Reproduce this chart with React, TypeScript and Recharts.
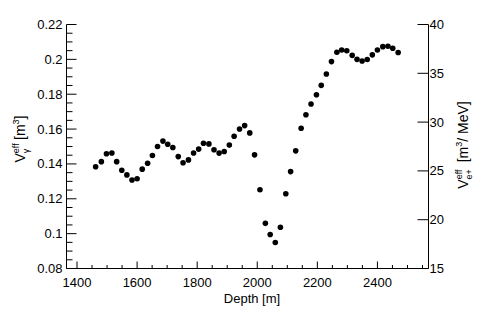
import React from "react";
import { ScatterChart, Scatter, XAxis, YAxis } from "recharts";

// depth [m] of each measurement
const depths = [
  1462, 1481, 1498, 1516, 1532, 1549, 1566, 1583, 1600, 1617,
  1635, 1651, 1668, 1686, 1702, 1719, 1737, 1753, 1771, 1788,
  1805, 1821, 1839, 1856, 1873, 1890, 1907, 1923, 1941, 1958,
  1975, 1991, 2009, 2027, 2043, 2060, 2077, 2095, 2111, 2128,
  2146, 2162, 2179, 2197, 2213, 2230, 2247, 2265, 2281, 2298,
  2316, 2332, 2349, 2366, 2383, 2400, 2418, 2435, 2451, 2469,
];

// V_gamma^eff [m^3]
const vGamma = [
  0.1384, 0.1413, 0.1458, 0.1463, 0.1413, 0.1364, 0.1337, 0.1308, 0.1315, 0.137,
  0.1404, 0.1448, 0.15, 0.1531, 0.1513, 0.1494, 0.1442, 0.1407, 0.1423, 0.1463,
  0.1485, 0.1519, 0.1515, 0.1481, 0.1462, 0.1471, 0.1508, 0.1559, 0.16, 0.162,
  0.1578, 0.1452, 0.1252, 0.1059, 0.0995, 0.0949, 0.1037, 0.1229, 0.1356, 0.1475,
  0.1605, 0.1682, 0.1744, 0.1797, 0.1851, 0.1916, 0.1987, 0.2041, 0.2054, 0.2049,
  0.2023, 0.2, 0.1991, 0.1999, 0.2026, 0.2054, 0.2073, 0.2075, 0.2064, 0.2039,
];

const xTicks = [
  1400, 1450, 1500, 1550, 1600, 1650, 1700, 1750, 1800, 1850, 1900, 1950,
  2000, 2050, 2100, 2150, 2200, 2250, 2300, 2350, 2400, 2450, 2500, 2550,
];
const xLabels = [1400, 1600, 1800, 2000, 2200, 2400];

const yTicks = [
  0.08, 0.085, 0.09, 0.095, 0.1, 0.105, 0.11, 0.115, 0.12, 0.125, 0.13, 0.135,
  0.14, 0.145, 0.15, 0.155, 0.16, 0.165, 0.17, 0.175, 0.18, 0.185, 0.19, 0.195,
  0.2, 0.205, 0.21, 0.215, 0.22,
];
const yLabels = [0.08, 0.1, 0.12, 0.14, 0.16, 0.18, 0.2, 0.22];

const y2Ticks = [15, 20, 25, 30, 35, 40];

const points = depths.map((d, i) => ({ depth: d, v: vGamma[i] }));

const font = "'Liberation Sans', Arial, sans-serif";
const isIn = (list: number[], v: number) => list.some((t) => Math.abs(t - v) < 1e-9);

function BottomTick(props: any) {
  const { x, y, payload } = props;
  const major = isIn(xLabels, payload.value);
  return (
    <g>
      <line x1={x} x2={x} y1={y} y2={y - (major ? 7 : 3.5)} stroke="#000" />
      {major && (
        <text x={x} y={y + 18} textAnchor="middle" fontSize={13} fontFamily={font} fill="#000">
          {payload.value}
        </text>
      )}
    </g>
  );
}

function TopTick(props: any) {
  const { x, y, payload } = props;
  const major = isIn(xLabels, payload.value);
  return <line x1={x} x2={x} y1={y} y2={y + (major ? 7 : 3.5)} stroke="#000" />;
}

function LeftTick(props: any) {
  const { x, y, payload } = props;
  const major = isIn(yLabels, payload.value);
  return (
    <g>
      <line x1={x} x2={x + (major ? 10 : 6)} y1={y} y2={y} stroke="#000" />
      {major && (
        <text x={x - 4} y={y + 4.5} textAnchor="end" fontSize={13} fontFamily={font} fill="#000">
          {String(payload.value)}
        </text>
      )}
    </g>
  );
}

function RightTick(props: any) {
  const { x, y, payload } = props;
  return (
    <g>
      <line x1={x} x2={x - 11} y1={y} y2={y} stroke="#000" />
      <text x={x + 1} y={y + 4.5} textAnchor="start" fontSize={13} fontFamily={font} fill="#000">
        {payload.value}
      </text>
    </g>
  );
}

function LeftLabel() {
  return (
    <text transform="translate(25,139) rotate(-90)" textAnchor="middle" fontSize={14} fontFamily={font} fill="#000">
      <tspan>V</tspan>
      <tspan fontSize={9} dy={-6}>eff</tspan>
      <tspan fontSize={9} dx={-10} dy={10}>γ</tspan>
      <tspan fontSize={14} dx={5} dy={-4}> [m</tspan>
      <tspan fontSize={9} dy={-6}>3</tspan>
      <tspan fontSize={14} dy={6}>]</tspan>
    </text>
  );
}

function RightLabel() {
  return (
    <text transform="translate(468,145) rotate(-90)" textAnchor="middle" fontSize={14} fontFamily={font} fill="#000">
      <tspan>V</tspan>
      <tspan fontSize={9} dy={-6}>eff</tspan>
      <tspan fontSize={9} dx={-10} dy={10}>e+</tspan>
      <tspan fontSize={14} dx={3} dy={-4}> [m</tspan>
      <tspan fontSize={9} dy={-6}>3</tspan>
      <tspan fontSize={14} dy={6}>/ MeV]</tspan>
    </text>
  );
}

function BottomLabel() {
  return (
    <text x={252} y={303} textAnchor="middle" fontSize={13} fontFamily={font} fill="#000">
      Depth [m]
    </text>
  );
}

export default function App() {
  return (
    <div style={{ position: "absolute", left: 0, top: 0, width: 479, height: 318, background: "#fff" }}>
      <ScatterChart width={479} height={318} margin={{ top: 24.5, right: 0, bottom: 0, left: 0 }}>
        <XAxis
          xAxisId="bottom"
          dataKey="depth"
          type="number"
          domain={[1365, 2570]}
          allowDataOverflow
          ticks={xTicks}
          interval={0}
          tickSize={0}
          tickMargin={0}
          tick={<BottomTick />}
          height={49.5}
          stroke="#000"
          label={<BottomLabel />}
        />
        <XAxis
          xAxisId="top"
          orientation="top"
          type="number"
          domain={[1365, 2570]}
          allowDataOverflow
          ticks={xTicks}
          interval={0}
          tickSize={0}
          tickMargin={0}
          tick={<TopTick />}
          height={0}
          stroke="#000"
        />
        <YAxis
          yAxisId="left"
          dataKey="v"
          type="number"
          domain={[0.08, 0.22]}
          allowDataOverflow
          ticks={yTicks}
          interval={0}
          tickSize={0}
          tickMargin={0}
          tick={<LeftTick />}
          width={66.5}
          stroke="#000"
          label={<LeftLabel />}
        />
        <YAxis
          yAxisId="right"
          orientation="right"
          type="number"
          domain={[15, 40]}
          allowDataOverflow
          ticks={y2Ticks}
          interval={0}
          tickSize={0}
          tickMargin={0}
          tick={<RightTick />}
          width={50.5}
          stroke="#000"
          label={<RightLabel />}
        />
        <Scatter
          data={points}
          xAxisId="bottom"
          yAxisId="left"
          fill="#000"
          isAnimationActive={false}
          shape={(p: any) => <circle cx={p.cx} cy={p.cy} r={2.8} fill="#000" />}
        />
      </ScatterChart>
    </div>
  );
}
